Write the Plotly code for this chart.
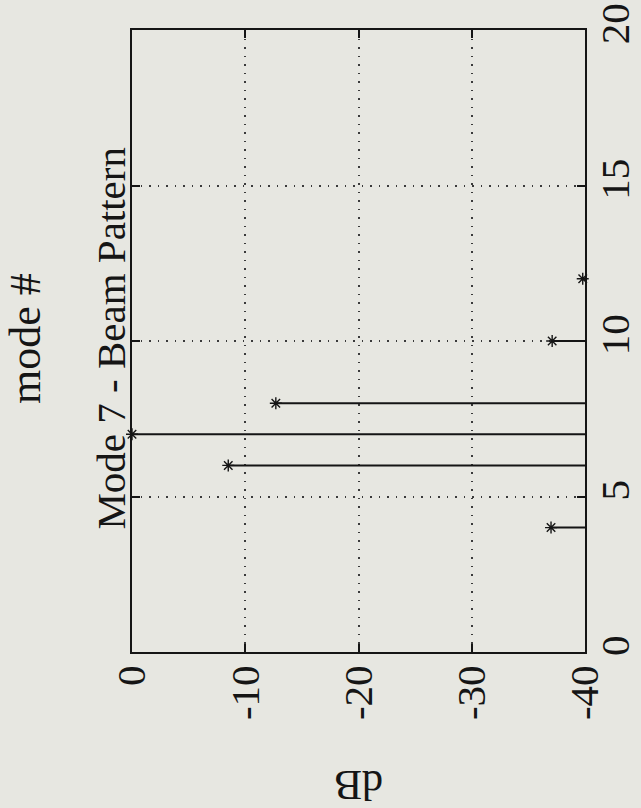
import plotly.graph_objects as go

# ---- data ----
mode_numbers = [4, 6, 7, 8, 10, 12]
beam_db = [-37.0, -8.5, 0.0, -12.7, -37.1, -39.8]
db_ticks = [0, -10, -20, -30, -40]
mode_ticks = [0, 5, 10, 15, 20]
title_text = "Mode 7 - Beam Pattern"
mode_label = "mode #"
db_label = "dB"

DB_FLOOR = -40
BG = "#e7e7e1"
INK = "#151515"
FONT = "Liberation Serif"

# stems: from the axis floor to each value
stem_x, stem_y = [], []
for m, v in zip(mode_numbers, beam_db):
    stem_x += [DB_FLOOR, v, None]
    stem_y += [m, m, None]

fig = go.Figure()
fig.add_trace(go.Scatter(x=stem_x, y=stem_y, mode="lines",
                         line=dict(color=INK, width=2), hoverinfo="skip",
                         showlegend=False))
fig.add_trace(go.Scatter(x=beam_db, y=mode_numbers, mode="markers",
                         marker=dict(symbol="asterisk-open", size=10, color=INK,
                                     line=dict(color=INK, width=1.4)),
                         cliponaxis=False, showlegend=False))

axis_common = dict(
    ticks="inside", ticklen=8, tickwidth=1.5, tickcolor=INK,
    showline=True, linewidth=2, linecolor=INK, mirror="allticks",
    showgrid=True, gridcolor="#3a3a3a", griddash="1.5px,7px", gridwidth=1.5,
    zeroline=False, tickangle=-90, automargin=False,
    tickfont=dict(family=FONT, size=41, color=INK),
)

fig.update_xaxes(range=[0, DB_FLOOR], tickvals=db_ticks,
                 ticktext=[str(t) for t in db_ticks],
                 ticklabelstandoff=-5, **axis_common)
fig.update_yaxes(range=[0, 20], side="right", tickvals=mode_ticks,
                 ticktext=[str(t) for t in mode_ticks],
                 ticklabelstandoff=-7, **axis_common)

fig.add_annotation(text=title_text, xref="paper", yref="paper",
                   x=-0.047, y=0.505, textangle=-90, showarrow=False,
                   xanchor="center", yanchor="middle",
                   font=dict(family=FONT, size=41, color=INK))
fig.add_annotation(text=mode_label, xref="paper", yref="paper",
                   x=-0.234, y=0.505, textangle=-90, showarrow=False,
                   xanchor="center", yanchor="middle",
                   font=dict(family=FONT, size=44, color=INK))
fig.add_annotation(text=db_label, xref="paper", yref="paper",
                   x=0.5, y=-0.215, textangle=180, showarrow=False,
                   xanchor="center", yanchor="middle", borderpad=0,
                   font=dict(family=FONT, size=42, color=INK))

fig.update_layout(width=641, height=808,
                  margin=dict(l=132, r=56, t=30, b=156),
                  paper_bgcolor=BG, plot_bgcolor=BG)

fig.write_html("out.html", config={"displayModeBar": False},
               post_script="document.body.style.margin='0';"
                           "document.body.style.background='%s';" % BG)
